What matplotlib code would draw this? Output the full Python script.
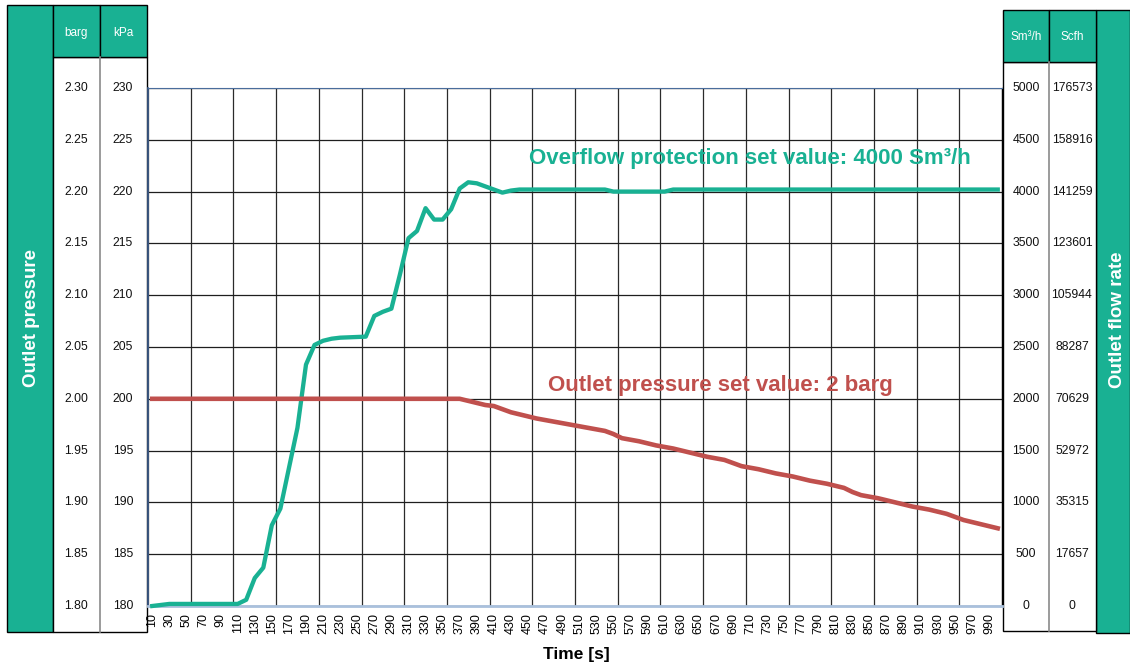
"""Outlet pressure / outlet flow rate vs. time, recreated with matplotlib.

Excel-style chart with unit columns (barg, kPa on the left, Sm3/h, Scfh on
the right) drawn as table cells around the plot area.
"""

import matplotlib

matplotlib.use("Agg")
import matplotlib.pyplot as plt
from matplotlib.patches import Rectangle
from matplotlib.transforms import blended_transform_factory

W, H = 1130, 668
TEAL = "#19B193"
RED = "#C0504D"

# Outlet flow rate (Sm3/h)
flow_time = [10, 20, 30, 110, 120, 130, 140, 150, 160, 170, 180, 190, 200,
             210, 220, 230, 260, 270, 280, 290, 300, 310, 320, 330, 340,
             350, 360, 370, 380, 390, 400, 410, 420, 430, 440, 540, 550,
             610, 620, 1000]
flow_sm3h = [0, 10, 20, 20, 60, 270, 370, 780, 940, 1330, 1720, 2330, 2520,
             2560, 2580, 2590, 2600, 2800, 2840, 2870, 3200, 3550, 3620,
             3840, 3730, 3730, 3830, 4030, 4090, 4080, 4050, 4020, 3990,
             4010, 4020, 4020, 4000, 4000, 4020, 4020]

# Outlet pressure (barg)
pres_time = [10, 370, 380, 390, 400, 410, 420, 430, 440, 460, 480, 500, 520,
             540, 550, 560, 580, 600, 620, 640, 660, 680, 690, 700, 720, 740,
             760, 780, 800, 820, 830, 840, 860, 880, 900, 920, 940, 950, 960,
             980, 1000]
pres_barg = [2.000, 2.000, 1.998, 1.996, 1.994, 1.993, 1.990, 1.987, 1.985,
             1.981, 1.978, 1.975, 1.972, 1.969, 1.966, 1.962, 1.959, 1.955,
             1.952, 1.948, 1.944, 1.941, 1.938, 1.935, 1.932, 1.928, 1.925,
             1.921, 1.918, 1.914, 1.910, 1.907, 1.904, 1.900, 1.896, 1.893,
             1.889, 1.886, 1.883, 1.879, 1.875]

# Axis labels
x_labels = list(range(10, 1000, 20))
x_grid = list(range(5, 1006, 50))
barg_ticks = [1.80, 1.85, 1.90, 1.95, 2.00, 2.05, 2.10, 2.15, 2.20, 2.25, 2.30]
kpa_labels = [180, 185, 190, 195, 200, 205, 210, 215, 220, 225, 230]
sm3_ticks = [0, 500, 1000, 1500, 2000, 2500, 3000, 3500, 4000, 4500, 5000]
scfh_labels = [0, 17657, 35315, 52972, 70629, 88287, 105944, 123601, 141259,
               158916, 176573]

plt.rcParams["font.family"] = ["Liberation Sans", "DejaVu Sans"]


def fx(px):
    return px / W


def fy(py):
    return 1 - py / H


def cell(x0, y0, x1, y1, face, edge="black", lw=1.0, z=0):
    rect = Rectangle((fx(x0), fy(y1)), (x1 - x0) / W, (y1 - y0) / H,
                     transform=fig.transFigure, facecolor=face,
                     edgecolor=edge, linewidth=lw, zorder=z)
    fig.add_artist(rect)


fig = plt.figure(figsize=(W / 100, H / 100), dpi=100)

# --- side table columns ---
# left
cell(7, 5, 53, 632, TEAL)
cell(53, 57, 147, 632, "white")
fig.add_artist(plt.Line2D([fx(100), fx(100)], [fy(57), fy(632)],
                          transform=fig.transFigure, color="#8a8a8a", lw=1.2))
cell(53, 5, 100, 57, TEAL)
cell(100, 5, 147, 57, TEAL)
# right
cell(1096, 10, 1130, 633, TEAL)
cell(1003, 62, 1096, 631, "white")
fig.add_artist(plt.Line2D([fx(1049), fx(1049)], [fy(62), fy(631)],
                          transform=fig.transFigure, color="#8a8a8a", lw=1.2))
cell(1003, 10, 1049, 62, TEAL)
cell(1049, 10, 1096, 62, TEAL)

hdr = dict(color="white", ha="center", va="center", fontsize=8.5)
fig.text(fx(76), fy(33), "barg", **hdr)
fig.text(fx(123), fy(33), "kPa", **hdr)
fig.text(fx(1026), fy(37), "Sm³/h", **hdr)
fig.text(fx(1072), fy(37), "Scfh", **hdr)

side = dict(color="white", ha="center", va="center", fontsize=13.5,
            fontweight="bold", rotation=90)
fig.text(fx(31), fy(318), "Outlet pressure", **side)
fig.text(fx(1117), fy(320), "Outlet flow rate", **side)

# --- main plot area ---
ax = fig.add_axes([fx(148), fy(606), (1002 - 148) / W, (606 - 88) / H])
ax.set_xlim(5, 1005)
ax.set_ylim(0, 5000)
axp = ax.twinx()
axp.set_ylim(1.80, 2.30)

ax.set_xticks(x_labels)
ax.set_xticklabels([str(v) for v in x_labels], rotation=90, fontsize=9)
ax.set_xticks(x_grid, minor=True)
ax.set_yticks(sm3_ticks)
ax.set_yticklabels([])
ax.tick_params(axis="x", which="both", length=0, pad=5)
ax.tick_params(axis="y", length=0)
axp.set_yticks([])
ax.grid(axis="x", which="minor", color="#2b2b2b", lw=0.9)
ax.grid(axis="x", which="major", visible=False)
ax.grid(axis="y", color="#1e1e1e", lw=0.9)
ax.set_axisbelow(True)

for s in axp.spines.values():
    s.set_visible(False)
ax.spines["top"].set_color("#4a6d9c")
ax.spines["left"].set_color("#3f5f8f")
ax.spines["left"].set_linewidth(1.2)
ax.spines["bottom"].set_color("#a9c0dc")
ax.spines["bottom"].set_linewidth(2)
ax.spines["right"].set_color("black")
ax.spines["right"].set_linewidth(0.9)

ax.plot(flow_time, flow_sm3h, color=TEAL, lw=3.1, solid_joinstyle="round",
        zorder=3, clip_on=False)
axp.plot(pres_time, pres_barg, color=RED, lw=3.3, solid_joinstyle="round",
         zorder=3)

ax.text(710, 4315, "Overflow protection set value: 4000 Sm³/h", color=TEAL,
        fontsize=16, fontweight="bold", ha="center", va="center", zorder=4)
axp.text(675, 2.013, "Outlet pressure set value: 2 barg", color=RED,
         fontsize=16, fontweight="bold", ha="center", va="center", zorder=4)

# --- values in the table columns, placed on the data scales ---
tr_l = blended_transform_factory(fig.transFigure, axp.transData)
tr_r = blended_transform_factory(fig.transFigure, ax.transData)
val = dict(ha="center", va="center", fontsize=8.8, color="#111111")
for b, k in zip(barg_ticks, kpa_labels):
    ax.text(fx(76), b, f"{b:.2f}", transform=tr_l, clip_on=False, **val)
    ax.text(fx(123), b, str(k), transform=tr_l, clip_on=False, **val)
for q, s in zip(sm3_ticks, scfh_labels):
    ax.text(fx(1026), q, str(q), transform=tr_r, clip_on=False, **val)
    ax.text(fx(1072), q, str(s), transform=tr_r, clip_on=False, **val)

fig.text(fx(576), fy(655), "Time [s]", ha="center", va="center",
         fontsize=12.5, fontweight="bold")

fig.savefig("out.png", dpi=100)
